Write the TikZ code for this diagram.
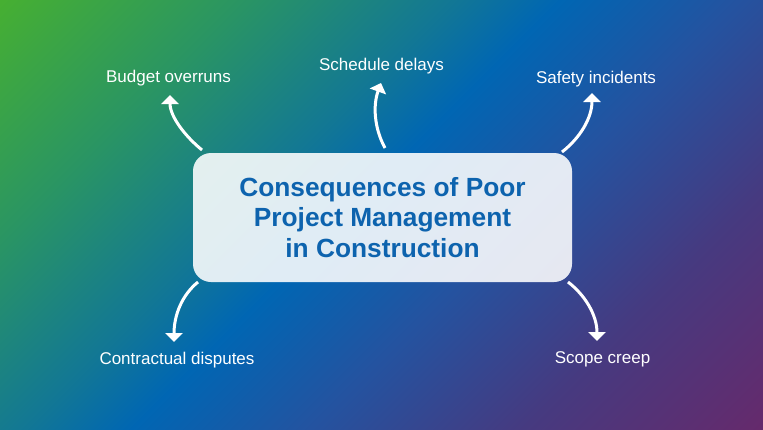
\documentclass[tikz,border=0pt]{standalone}
\usepackage{fontspec}
\setmainfont{Liberation Sans}
\usetikzlibrary{arrows.meta}
\definecolor{gA}{HTML}{46AF32}
\definecolor{gB}{HTML}{2A9563}
\definecolor{gC}{HTML}{127795}
\definecolor{gD}{HTML}{0066B3}
\definecolor{gE}{HTML}{2453A0}
\definecolor{gF}{HTML}{463A80}
\definecolor{gG}{HTML}{652A6C}
\definecolor{titleblue}{HTML}{0D63AE}
\pgfdeclarehorizontalshading{bgshade}{100bp}{color(0bp)=(gA); color(25bp)=(gA); color(35bp)=(gB); color(44bp)=(gC); color(48.5bp)=(gD); color(56bp)=(gE); color(65bp)=(gF); color(75bp)=(gG); color(100bp)=(gG)}
\tikzset{
  centerbox/.style={fill=white, fill opacity=0.88, text opacity=1, rounded corners=18pt,
    minimum width=379pt, minimum height=129pt, align=center, inner sep=0pt,
    text=titleblue, font=\bfseries\fontsize{26.3}{30.5}\selectfont},
  lbl/.style={text=white, anchor=base, inner sep=0pt, font=\fontsize{17}{20}\selectfont},
  arr/.style={draw=white, line width=3pt, -{Triangle[width=17pt,length=9pt]}}
}
\begin{document}
\begin{tikzpicture}[x=1pt,y=-1pt]
\useasboundingbox (0,0) rectangle (763,429);
\begin{scope}
\clip (0,0) rectangle (763,429);
\shade[shading=bgshade, shading angle=-45] (-40,-207) rectangle (803,636);
\end{scope}
\node[centerbox] (c) at (382.5,217.5) {Consequences of Poor\\Project Management\hspace*{7pt}\\in Construction};
\node[lbl] (t1) at (168.5,82) {Budget overruns};
\node[lbl] (t2) at (381.5,70) {Schedule delays};
\node[lbl] (t3) at (596,83.5) {Safety incidents};
\node[lbl] (t4) at (177,364) {Contractual disputes};
\node[lbl] (t5) at (602.5,363.5) {Scope creep};
\coordinate (s1) at (202,150);
\coordinate (e1) at (170,95);
\coordinate (s2) at (385,148);
\coordinate (e2) at (381,83);
\coordinate (s3) at (562,152);
\coordinate (e3) at (592,93);
\coordinate (s4) at (198,282);
\coordinate (e4) at (174,342);
\coordinate (s5) at (568,282);
\coordinate (e5) at (597,341);
\draw[arr] (s1) .. controls +(-16,-13) and +(0,22) .. (e1);
\draw[arr] (s2) .. controls +(-11,-20) and +(-8,22) .. (e2);
\draw[arr] (s3) .. controls +(18,-14) and +(0,25) .. (e3);
\draw[arr] (s4) .. controls +(-16,13) and +(0,-27) .. (e4);
\draw[arr] (s5) .. controls +(17,13) and +(0,-26) .. (e5);
\end{tikzpicture}
\end{document}
